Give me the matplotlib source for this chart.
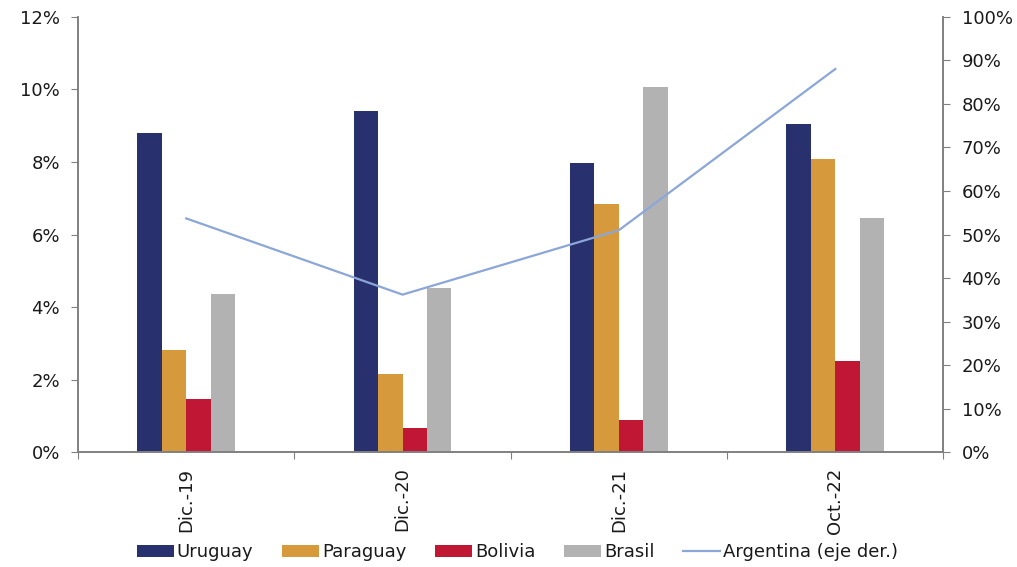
import matplotlib.pyplot as plt
import numpy as np
from matplotlib.ticker import FuncFormatter

# datos
fechas = ["Dic.-19", "Dic.-20", "Dic.-21", "Oct.-22"]
uruguay = [8.79, 9.41, 7.97, 9.05]
paraguay = [2.82, 2.17, 6.83, 8.09]
bolivia = [1.48, 0.67, 0.89, 2.51]
brasil = [4.35, 4.53, 10.07, 6.46]
argentina = [53.7, 36.2, 51.0, 88.0]  # eje derecho

series = [("Uruguay", uruguay, "#29306e"),
          ("Paraguay", paraguay, "#d69a3c"),
          ("Bolivia", bolivia, "#c01834"),
          ("Brasil", brasil, "#b2b2b2")]

plt.rcParams['font.family'] = ['DejaVu Sans']
plt.rcParams['font.size'] = 13
txt = '#1a1a1a'
gris = '#808080'

fig = plt.figure(figsize=(10.17, 5.67), dpi=100)
ax = fig.add_axes([0.0767, 0.2023, 0.851, 0.7682])

x = np.arange(len(fechas))
w = 0.113
for i, (nombre, vals, col) in enumerate(series):
    ax.bar(x + (i - 1.5) * w, vals, w, color=col, label=nombre, zorder=2)

ax.set_xlim(-0.5, 3.5)
ax.set_ylim(0, 12)
ax.set_yticks(np.arange(0, 13, 2))
ax.yaxis.set_major_formatter(FuncFormatter(lambda v, p: "%d%%" % v))

# ticks del eje x en los limites de cada categoria, etiquetas en el centro
ax.set_xticks(np.arange(-0.5, 4, 1))
ax.set_xticklabels([])
ax.set_xticks(x, minor=True)
ax.set_xticklabels(fechas, minor=True, rotation=90, color=txt)
ax.tick_params(axis='x', which='major', length=5, color=gris, direction='out')
ax.tick_params(axis='x', which='minor', length=0, pad=11)
ax.tick_params(axis='y', length=5, color=gris, pad=8, labelcolor=txt)

ax2 = ax.twinx()
ax2.plot(x, argentina, color="#8ba6d8", lw=1.6, label="Argentina (eje der.)")
ax2.set_ylim(0, 100)
ax2.set_yticks(np.arange(0, 101, 10))
ax2.yaxis.set_major_formatter(FuncFormatter(lambda v, p: "%d%%" % v))
ax2.tick_params(axis='y', length=5, color=gris, pad=8, labelcolor=txt)

for a in (ax, ax2):
    a.spines['top'].set_visible(False)
    for s in ('left', 'right', 'bottom'):
        a.spines[s].set_color(gris)
        a.spines[s].set_linewidth(1.2)

h1, l1 = ax.get_legend_handles_labels()
h2, l2 = ax2.get_legend_handles_labels()
fig.legend(h1 + h2, l1 + l2, loc='center', bbox_to_anchor=(0.509, 0.026),
           ncol=5, frameon=False, handlelength=2.05, handletextpad=0.15,
           columnspacing=1.6, fontsize=13, labelcolor=txt)

plt.savefig("out.png", dpi=100)
